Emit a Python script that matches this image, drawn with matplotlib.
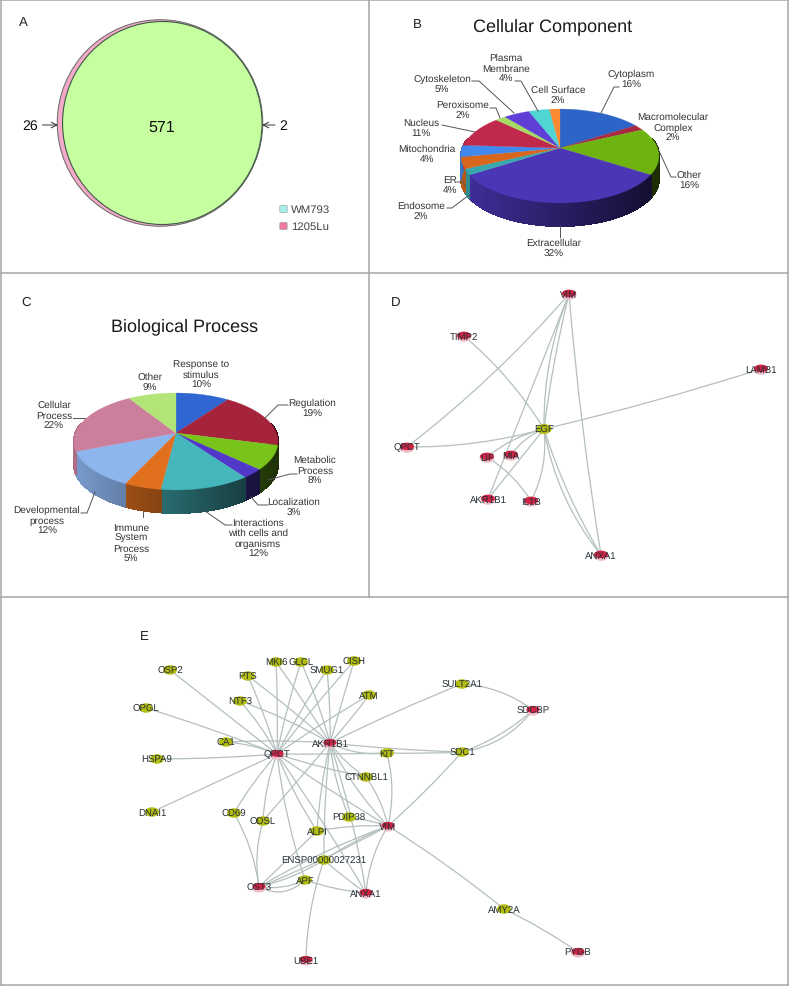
import numpy as np
import matplotlib
matplotlib.use('Agg')
import matplotlib.pyplot as plt
from matplotlib.patches import Ellipse, FancyArrowPatch, FancyBboxPatch

plt.rcParams['font.family'] = ['Liberation Sans', 'DejaVu Sans']
plt.rcParams['text.hinting'] = 'none'

# Panel B data
cc_names = ['Cytoplasm\n16%', 'Macromolecular\nComplex\n2%', 'Other\n16%', 'Extracellular\n32%',
            'Endosome\n2%', 'ER\n4%', 'Mitochondria\n4%', 'Nucleus\n11%', 'Peroxisome\n2%',
            'Cytoskeleton\n5%', 'Plasma\nMembrane\n4%', 'Cell Surface\n2%']
cc_values = [16, 2, 16, 32, 2, 4, 4, 11, 2, 5, 4, 2]
cc_colors = ['#2c64c8', '#a82a44', '#6fb310', '#4b36b6', '#38a8ae', '#d8661c',
             '#4189ee', '#c0294c', '#a6dc64', '#5f3fd6', '#50d4d4', '#fb8a30']
cc_label_x = [631, 673, 689, 554, 421, 450, 427, 421, 463, 442, 506, 558]
cc_label_y = [80, 128, 181, 249, 212, 186, 155, 129, 111, 85, 69, 96]
cc_leaders = [[(619, 88), (614, 88), (601, 114)],
              [(676, 178), (671, 178), (659, 152)],
              [(560, 227), (560, 238)],
              [(447, 209), (452, 209), (469, 196)],
              [(457, 183), (463, 183), (465, 187)],
              [(442, 126), (475, 133)],
              [(490, 109), (496, 109), (500, 119)],
              [(472, 82), (479, 82), (514, 114)],
              [(515, 82), (521, 82), (538, 112)]]

# Panel C data
bp_names = ['Response to\nstimulus\n10%', 'Regulation\n19%', 'Metabolic\nProcess\n8%', 'Localization\n3%',
            'Interactions\nwith cells and\norganisms\n12%', 'Immune\nSystem\nProcess\n5%',
            'Developmental\nprocess\n12%', 'Cellular\nProcess\n22%', 'Other\n9%']
bp_values = [10, 19, 8, 3, 12, 5, 12, 22, 9]
bp_colors = ['#2f66d2', '#a6233c', '#78c41a', '#5238c8', '#45b6bc', '#e0701e',
             '#8db5ee', '#cc7f9c', '#b2e478']
bp_label_x = [201, 312, 315, 294, 258, 131, 47, 54, 150]
bp_label_y = [375, 409, 471, 508, 539, 544, 521, 416, 383]
bp_leaders = [[(288, 406), (278, 406), (265, 419)],
              [(297, 475), (290, 475), (268, 481)],
              [(268, 506), (258, 506), (251, 498)],
              [(232, 526), (225, 526), (205, 512)],
              [(143, 518), (143, 513)],
              [(81, 514), (87, 514), (95, 493)],
              [(73, 419), (85, 419)]]

# Panel D network
d_nodes = {'VIM': (569, 295), 'TIMP2': (464, 337), 'LAMB1': (761, 370), 'EGF': (544, 430),
           'QPCT': (407, 448), 'LIF': (487, 458), 'MIA': (511, 456), 'AKR1B1': (488, 500),
           'IL1B': (531, 502), 'ANXA1': (601, 556)}
d_green = ['EGF']
d_edges = [('VIM', 'QPCT', -0.05), ('VIM', 'EGF', 0.03), ('VIM', 'EGF', 0.1), ('VIM', 'AKR1B1', 0.0),
           ('VIM', 'ANXA1', 0.02), ('TIMP2', 'EGF', -0.08), ('LAMB1', 'EGF', -0.02),
           ('QPCT', 'EGF', 0.07), ('EGF', 'LIF', 0.12), ('EGF', 'MIA', 0.15),
           ('EGF', 'AKR1B1', 0.0), ('EGF', 'IL1B', -0.15), ('EGF', 'ANXA1', 0.06),
           ('EGF', 'ANXA1', 0.13), ('LIF', 'IL1B', -0.12)]

# Panel E network
e_nodes = {'OSP2': (170, 671), 'MKI6': (276, 663), 'GLCL': (301, 663), 'SMUG1': (327, 671),
           'CISH': (354, 662), 'PTS': (248, 677), 'ATM': (369, 696), 'NTF3': (240, 702),
           'OPGL': (146, 709), 'CA1': (226, 743), 'AKR1B1': (330, 744), 'KIT': (387, 754),
           'QPCT': (277, 755), 'HSPA9': (157, 760), 'CTNNBL1': (366, 778), 'DNAI1': (152, 813),
           'CD69': (234, 814), 'ODSL': (263, 822), 'PDIP38': (349, 818), 'VIM': (388, 827),
           'ALPI': (317, 832), 'ENSP00000027231': (324, 861), 'APF': (305, 881), 'OST3': (259, 888),
           'ANXA1': (366, 894), 'AMY2A': (504, 910), 'PYGB': (578, 953), 'UBE1': (306, 961),
           'SULT2A1': (462, 685), 'SDCBP': (533, 711), 'SDC1': (462, 753)}
e_red = ['AKR1B1', 'QPCT', 'VIM', 'OST3', 'ANXA1', 'PYGB', 'UBE1', 'SDCBP']
e_edges = [('QPCT', 'OSP2', 0.0), ('QPCT', 'OPGL', 0.02), ('QPCT', 'HSPA9', -0.02), ('QPCT', 'CA1', 0.08),
           ('QPCT', 'DNAI1', 0.0), ('QPCT', 'NTF3', 0.06), ('QPCT', 'PTS', 0.03), ('QPCT', 'MKI6', 0.02),
           ('QPCT', 'GLCL', -0.03), ('QPCT', 'SMUG1', -0.03), ('QPCT', 'CISH', -0.02), ('QPCT', 'KIT', 0.01),
           ('QPCT', 'CD69', 0.05), ('QPCT', 'ODSL', 0.08), ('QPCT', 'ALPI', 0.05), ('QPCT', 'VIM', 0.02),
           ('QPCT', 'CTNNBL1', 0.03), ('QPCT', 'ANXA1', -0.02), ('QPCT', 'APF', 0.05), ('QPCT', 'ATM', -0.02),
           ('AKR1B1', 'MKI6', 0.02), ('AKR1B1', 'GLCL', 0.04), ('AKR1B1', 'SMUG1', 0.03), ('AKR1B1', 'CISH', 0.0),
           ('AKR1B1', 'PTS', 0.02), ('AKR1B1', 'NTF3', 0.05), ('AKR1B1', 'ATM', 0.03), ('AKR1B1', 'CA1', 0.03),
           ('AKR1B1', 'KIT', 0.15), ('AKR1B1', 'SULT2A1', -0.02), ('AKR1B1', 'SDC1', 0.02), ('AKR1B1', 'ALPI', 0.04),
           ('AKR1B1', 'PDIP38', 0.08), ('AKR1B1', 'CTNNBL1', 0.1), ('AKR1B1', 'VIM', 0.08), ('AKR1B1', 'ANXA1', -0.04),
           ('AKR1B1', 'ODSL', 0.0), ('AKR1B1', 'ENSP00000027231', 0.03), ('VIM', 'ALPI', 0.06), ('VIM', 'PDIP38', 0.05),
           ('VIM', 'ANXA1', 0.12), ('VIM', 'OST3', 0.05), ('VIM', 'OST3', -0.03), ('VIM', 'ENSP00000027231', 0.05),
           ('VIM', 'SDC1', 0.03), ('VIM', 'AMY2A', -0.03), ('VIM', 'KIT', 0.12), ('VIM', 'CTNNBL1', 0.1),
           ('OST3', 'CD69', 0.1), ('OST3', 'ODSL', -0.12), ('OST3', 'ALPI', 0.0), ('OST3', 'APF', 0.15),
           ('OST3', 'APF', 0.35), ('OST3', 'ENSP00000027231', 0.08), ('APF', 'ANXA1', 0.06),
           ('ENSP00000027231', 'UBE1', 0.08), ('ENSP00000027231', 'ANXA1', 0.03), ('AMY2A', 'PYGB', -0.04),
           ('SULT2A1', 'SDCBP', -0.15), ('SDCBP', 'SDC1', -0.1), ('SDCBP', 'SDC1', -0.2), ('KIT', 'SDC1', 0.02)]

# Panel A
venn_overlap, venn_left, venn_right = 571, 26, 2
venn_names = ['WM793', '1205Lu']
venn_colors = ['#a9eee8', '#f2789f']

LABEL = '#333333'
LINE = '#555555'


def shade(color, f):
    return tuple(np.array(matplotlib.colors.to_rgb(color)) * f)


def rim(theta, cx, cy, sx, sy, k):
    # perspective circle, the apex ends up above the ellipse centre
    up = np.cos(theta)
    w = 1 + k * up
    return cx + sx * np.sin(theta) / w, cy - sy * up / w


def pie3d(ax, values, colors, cx, cy, sx, sy, k, depth):
    edges = np.cumsum([0] + list(values)) / sum(values) * 2 * np.pi
    # side wall first, then the top face on it
    for i, col in enumerate(colors):
        t = np.linspace(edges[i], edges[i + 1], max(int(values[i] * 12), 6))
        x, y = rim(t, cx, cy, sx, sy, k)
        for j in range(len(t) - 1):
            if np.cos(t[j]) > 0.2:
                continue
            f = 0.85 - 0.6 * ((x[j] - cx) / sx + 1) / 2
            ax.fill([x[j], x[j + 1], x[j + 1], x[j]],
                    [y[j], y[j + 1], y[j + 1] + depth, y[j] + depth],
                    color=shade(col, f), lw=0.8, antialiased=False, zorder=2)
    for i, col in enumerate(colors):
        t = np.linspace(edges[i], edges[i + 1], 60)
        x, y = rim(t, cx, cy, sx, sy, k)
        ax.fill(np.r_[cx, x], np.r_[cy, y], color=col, lw=0.2, zorder=3)


def pie_labels(ax, names, xs, ys, leaders):
    for n, x, y in zip(names, xs, ys):
        ax.text(x, y, n, fontsize=7.2, color=LABEL, ha='center', va='center', linespacing=1.15, zorder=6)
    for pts in leaders:
        ax.plot(*zip(*pts), color=LINE, lw=0.7, zorder=5)


def network(ax, nodes, edges, red, w=15, h=10, ecolor='#b4c0be'):
    for a, b, r in edges:
        ax.add_patch(FancyArrowPatch(nodes[a], nodes[b], arrowstyle='-', shrinkA=0, shrinkB=0,
                                     connectionstyle=f'arc3,rad={r}', color=ecolor, lw=0.9, zorder=2))
    for name, (x, y) in nodes.items():
        if name in red:
            ax.add_patch(Ellipse((x, y + 0.8), w, h, color='#f0bcc8', lw=0, zorder=3))
            ax.add_patch(Ellipse((x, y - 0.6), w - 1, h - 2.5, color='#cf2446', lw=0, zorder=3))
        else:
            ax.add_patch(Ellipse((x, y), w, h, color='#b4bd12', lw=0, zorder=3))
        ax.text(x, y, name, fontsize=6.9, color='#263036', ha='center', va='center', zorder=4)


fig = plt.figure(figsize=(7.89, 9.87), dpi=100)
ax = fig.add_axes([0, 0, 1, 1])
ax.set_xlim(0, 789)
ax.set_ylim(987, 0)
ax.axis('off')

# panel frame
for seg in [[(0.5, 0.5), (788, 0.5)], [(0.5, 0.5), (0.5, 986)], [(788, 0.5), (788, 986)], [(0.5, 986), (788, 986)],
            [(0.5, 273.5), (788, 273.5)], [(0.5, 597.5), (788, 597.5)], [(369.5, 0.5), (369.5, 597.5)]]:
    ax.plot(*zip(*seg), color='#a6a6a6', lw=1.1, zorder=1)

# A: Venn
ax.text(23, 23, 'A', fontsize=9.5, color='#222222', ha='center', va='center')
ax.add_patch(Ellipse((160, 124), 205.5, 206.5, fc='#f5a9c8', ec='#666666', lw=0.7, zorder=2))
ax.add_patch(Ellipse((162.3, 124), 199.5, 203, fc='#c6ffa0', ec='#3d5a45', lw=0.8, zorder=3))
ax.text(161.5, 128, str(venn_overlap), fontsize=11.5, color='#111111', ha='center', va='center', zorder=4)
ax.annotate(str(venn_left), xy=(58, 126), xytext=(30.5, 126), fontsize=10.2, ha='center', va='center',
            color='#111111', arrowprops=dict(arrowstyle='->', color='#333333', lw=0.7, shrinkA=1, shrinkB=0))
ax.annotate(str(venn_right), xy=(262, 126), xytext=(283, 126), fontsize=10.2, ha='center', va='center',
            color='#111111', arrowprops=dict(arrowstyle='->', color='#333333', lw=0.7, shrinkA=1, shrinkB=0))
for name, col, y in zip(venn_names, venn_colors, [210, 227]):
    ax.add_patch(FancyBboxPatch((281, y - 2.5), 5, 5, boxstyle='round,pad=1.2', fc=col, ec='#9aa', lw=0.5))
    ax.text(291, y, name, fontsize=8.2, color='#444444', ha='left', va='center')

# B: cellular component
ax.text(417, 25, 'B', fontsize=9.5, color='#222222', ha='center', va='center')
ax.text(553, 27, 'Cellular Component', fontsize=13, color='#1a1a1a', ha='center', va='center')
pie3d(ax, cc_values, cc_colors, 560, 149, 97.5, 45.6, 0.17, 23)
pie_labels(ax, cc_names, cc_label_x, cc_label_y, cc_leaders)

# C: biological process
ax.text(26, 303, 'C', fontsize=9.5, color='#222222', ha='center', va='center')
ax.text(185, 327, 'Biological Process', fontsize=13, color='#1a1a1a', ha='center', va='center')
pie3d(ax, bp_values, bp_colors, 176, 434, 100.5, 47, 0.175, 23)
pie_labels(ax, bp_names, bp_label_x, bp_label_y, bp_leaders)

# D and E: networks
ax.text(396, 303, 'D', fontsize=9.5, color='#222222', ha='center', va='center')
network(ax, d_nodes, d_edges, [n for n in d_nodes if n not in d_green])
ax.text(144, 637, 'E', fontsize=9.5, color='#222222', ha='center', va='center')
network(ax, e_nodes, e_edges, e_red, w=14, h=9.5)

fig.savefig('out.png', dpi=100)
